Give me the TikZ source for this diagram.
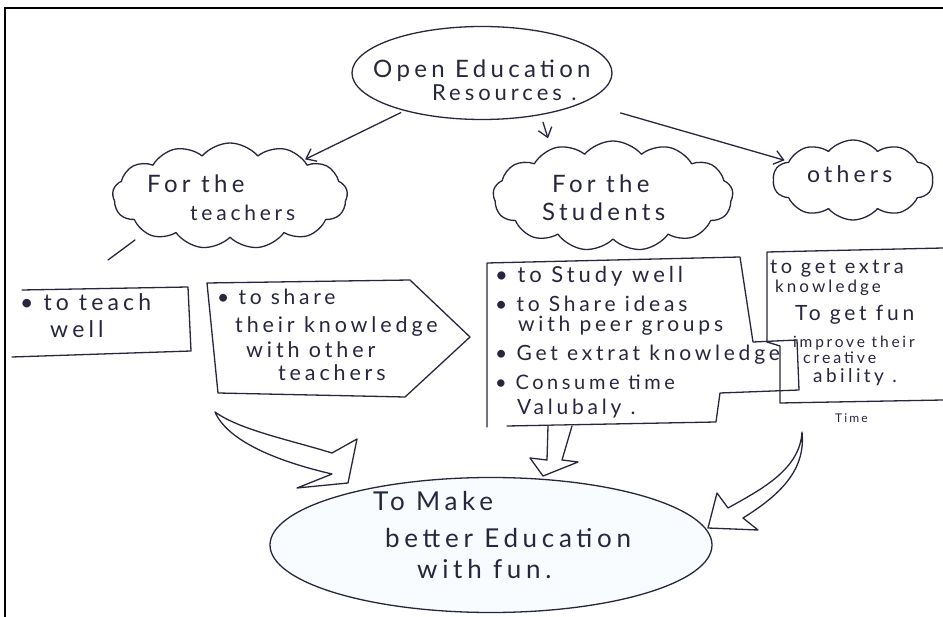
\documentclass[tikz,border=0pt]{standalone}
\usepackage{fontspec}
\setmainfont{Lato}[LetterSpace=18]
\usetikzlibrary{shapes.geometric,shapes.symbols,arrows.meta}
\definecolor{ink}{RGB}{38,38,62}
\definecolor{wash}{RGB}{249,252,254}
\begin{document}
\begin{tikzpicture}[x=1pt,y=-1pt,
  pen/.style={draw=ink,line width=1.3pt,line join=round,line cap=round},
  arr/.style={pen,-{Straight Barb[length=9pt,width=14pt,line width=1.3pt]}},
  cloudshape/.style={pen,cloud,cloud puffs=13,cloud puff arc=100,cloud ignores aspect,inner sep=0pt},
  txt/.style={text=ink,inner sep=0pt,anchor=mid west,font=\fontsize{#1}{#1}\selectfont},
  txt/.default=20]
\useasboundingbox (0,0) rectangle (943,617);
% frame
\draw[black,line width=2.6pt] (5,617) -- (5,8) -- (943,8);

% top ellipse
\node[pen,ellipse,minimum width=260pt,minimum height=93pt,inner sep=0pt] (oer) at (482,73) {};
\node[txt=24] (oer1) at (373,75) {Open Education};
\node[txt=22] (oer2) at (432,98) {Resources .};

% clouds
\node[cloudshape,minimum width=235pt,minimum height=106pt] (tcloud) at (230,196) {};
\node[cloudshape,minimum width=240pt,minimum height=110pt] (scloud) at (613,196) {};
\node[cloudshape,cloud puffs=10,minimum width=160pt,minimum height=80pt] (ocloud) at (853,180) {};
\node[txt=24] (t1) at (147,190) {For the};
\node[txt=21] (t2) at (190,218) {teachers};
\node[txt=24] (s1) at (552,190) {For the};
\node[txt=24] (s2) at (542,218) {Students};
\node[txt=23] (o1) at (807,180) {others};

% connectors from the top ellipse
\draw[arr,shorten <=4pt,shorten >=1pt] (oer) -- (tcloud);
\draw[arr] ([xshift=61pt,yshift=-2pt]oer.south) -- ([xshift=-65pt,yshift=2pt]scloud.north);
\draw[arr,shorten <=38pt,shorten >=4pt] (oer) -- (ocloud);

% stray stroke under teachers cloud
\draw[pen] (108,260) -- (135,240);

% teach box
\draw[pen] (22,290) -- (188,287) -- (191,351) -- (12,357);
\node[txt=23] (tb1) at (20,308) {• to teach};
\node[txt=23] (tb2) at (50,335) {well};

% share pentagon
\draw[pen] (207,283) -- (410,280) -- (470,337) -- (405,397) -- (218,393) -- cycle;
\node[txt=21] (p1) at (217,302) {• to share};
\node[txt=21.5] (p2) at (235,330) {their knowledge};
\node[txt=21.5] (p3) at (246,355) {with other};
\node[txt=21.5] (p4) at (278,378) {teachers};

% students box
\draw[pen] (487,427) -- (487,263) -- (740,257) -- (753,342) -- (797,340) -- (799,390) -- (720,393) -- (716,422) -- (507,426);
\node[txt=22] (sb1) at (495,280) {• to Study well};
\node[txt=21] (sb2) at (495,309) {• to Share ideas};
\node[txt=21] (sb3) at (518,329) {with peer groups};
\node[txt=21] (sb4) at (495,358) {• Get extrat knowledge};
\node[txt=20] (sb5) at (495,387) {• Consume time};
\node[txt=21] (sb6) at (517,412) {Valubaly .};

% others box
\draw[pen] (943,248) -- (767,252) -- (767,342) -- (780,346) -- (780,403) -- (943,400);
\node[txt=20] (ob1) at (770,271) {to get extra};
\node[txt=17] (ob2) at (775,290) {knowledge};
\node[txt=21] (ob3) at (795,318) {To get fun};
\node[txt=15.5] (ob4) at (793,345) {improve their};
\node[txt=16] (ob5) at (803,361) {creative};
\node[txt=19] (ob6) at (813,380) {ability .};
\node[txt=12] (tm) at (835,420) {Time};

% goal ellipse
\node[pen,ellipse,fill=wash,minimum width=442pt,minimum height=135pt,inner sep=0pt] (goal) at (491,545) {};
\node[txt=26] (g1) at (373,508) {To Make};
\node[txt=26] (g2) at (385,545) {better Education};
\node[txt=26] (g3) at (417,576) {with fun.};

% block arrows
\draw[pen,fill=white] (215,412) .. controls (240,430) and (290,440) .. (332,453) -- (357,439) -- (348,483) -- (297,488) -- (332,474) .. controls (280,462) and (228,442) .. (215,412) -- cycle;
\draw[pen,fill=white] (548,426) -- (547,460) -- (530,458) -- (543,476) -- (578,462) -- (562,460) -- (572,426);
\draw[pen,fill=white] (802,432) .. controls (800,470) and (760,490) .. (728,508) -- (717,493) -- (708,528) -- (758,530) -- (743,518) .. controls (780,495) and (806,470) .. (802,432) -- cycle;
\end{tikzpicture}
\end{document}
